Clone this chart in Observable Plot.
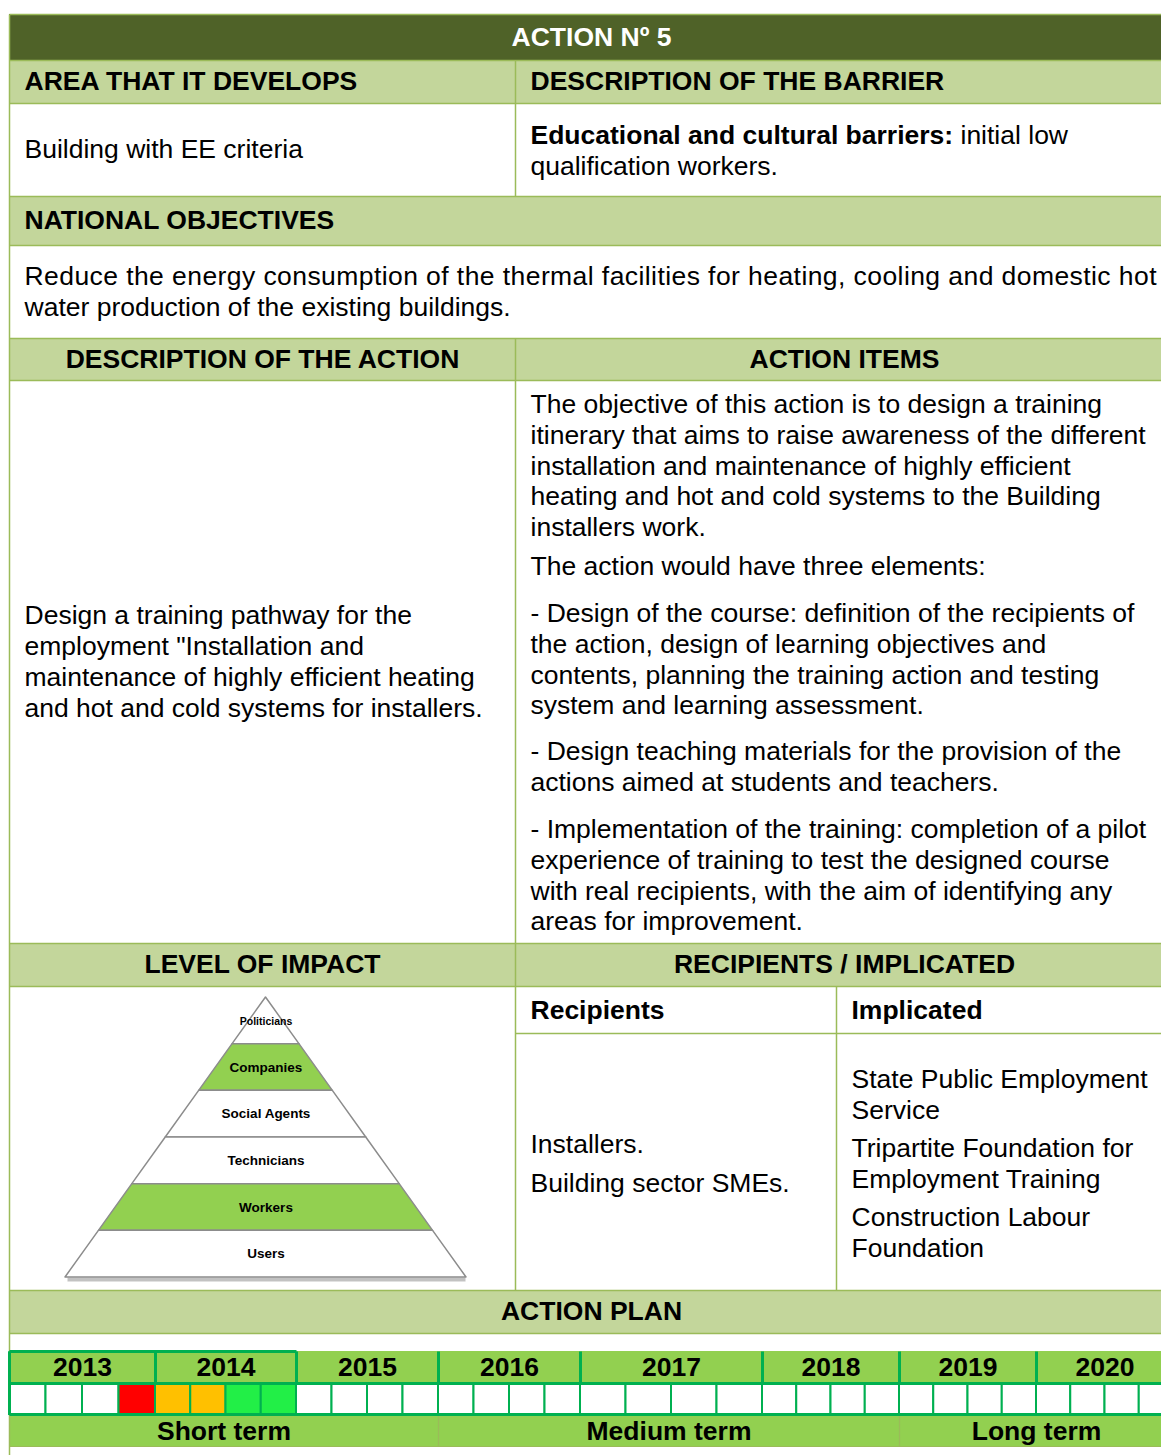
<!DOCTYPE html>
<html><head><meta charset="utf-8">
<script src="https://cdn.jsdelivr.net/npm/d3@7"></script>
<script src="https://cdn.jsdelivr.net/npm/@observablehq/plot@0.6"></script>
<style>html,body{margin:0;padding:0;background:#fff;} svg{display:block}</style>
</head><body><div id="chart"></div>
<script>
// ---------------- DATA ----------------
const actionTitle = "ACTION Nº 5";
const areaHeader = "AREA THAT IT DEVELOPS";
const barrierHeader = "DESCRIPTION OF THE BARRIER";
const areaText = "Building with EE criteria";
const barrierBold = "Educational and cultural barriers:";
const barrierRest = ["initial low", "qualification workers."];
const objectivesHeader = "NATIONAL OBJECTIVES";
const objectivesLines = [
  "Reduce the energy consumption of the thermal facilities for heating, cooling and domestic hot",
  "water production of the existing buildings."
];
const actionDescHeader = "DESCRIPTION OF THE ACTION";
const actionItemsHeader = "ACTION ITEMS";
const actionDescLines = [
  "Design a training pathway for the",
  "employment \"Installation and",
  "maintenance of highly efficient heating",
  "and hot and cold systems for installers."
];
const actionItemsParas = [
  ["The objective of this action is to design a training",
   "itinerary that aims to raise awareness of the different",
   "installation and maintenance of highly efficient",
   "heating and hot and cold systems to the Building",
   "installers work."],
  ["The action would have three elements:"],
  ["- Design of the course: definition of the recipients of",
   "the action, design of learning objectives and",
   "contents, planning the training action and testing",
   "system and learning assessment."],
  ["- Design teaching materials for the provision of the",
   "actions aimed at students and teachers."],
  ["- Implementation of the training: completion of a pilot",
   "experience of training to test the designed course",
   "with real recipients, with the aim of identifying any",
   "areas for improvement."]
];
const impactHeader = "LEVEL OF IMPACT";
const recipientsHeader = "RECIPIENTS / IMPLICATED";
const pyramidLevels = ["Politicians", "Companies", "Social Agents", "Technicians", "Workers", "Users"];
const pyramidHighlighted = ["Companies", "Workers"];
const recipientsLabel = "Recipients";
const implicatedLabel = "Implicated";
const recipients = ["Installers.", "Building sector SMEs."];
const implicated = [
  ["State Public Employment", "Service"],
  ["Tripartite Foundation for", "Employment Training"],
  ["Construction Labour", "Foundation"]
];
const planHeader = "ACTION PLAN";
const years = [2013, 2014, 2015, 2016, 2017, 2018, 2019, 2020];
const quarterStatus = [
  {year: 2013, quarter: 4, status: "red"},
  {year: 2014, quarter: 1, status: "orange"},
  {year: 2014, quarter: 2, status: "orange"},
  {year: 2014, quarter: 3, status: "green"},
  {year: 2014, quarter: 4, status: "green"}
];
const terms = [
  {term: "Short term", from: 2013, to: 2015},
  {term: "Medium term", from: 2016, to: 2018},
  {term: "Long term", from: 2019, to: 2020}
];

// ---------------- LAYOUT / STYLE ----------------
const W = 1161, H = 1455;
const FONT = "'Liberation Sans', Arial, Helvetica, sans-serif";
const FS = 26.5, LH = 30.8;
const COL = {title: "#4f6228", header: "#c3d69b", border: "#9bbb59", plan: "#92d050",
  planBorder: "#00b050", pyrStroke: "#8c8c8c", pyrFill: "#92d050",
  status: {red: "#ff0000", orange: "#ffc000", green: "#22ef47"}};
const X = {left: 9, right: 1173, mid: 515, sub: 836, padL: 24, padR: 530, padS: 851};
const R = {title: [14, 60], h1: [60, 103], b1: [103, 196], h2: [196, 245], b2: [245, 338],
  h3: [338, 380], b3: [380, 943], h4: [943, 986], b4: [986, 1290], sep: 1033, h5: [1290, 1333],
  yr: [1351, 1383], qt: [1383, 1414], tm: [1414, 1446]};
const yearEdges = [9, 155, 296, 438, 580, 762, 899, 1036, 1173];
const itemsParaStarts = [404, 566, 613, 751, 829];
const pyr = {cx: 265.5, top: 997, base: 1277, half: 200.5};

const mid = r => (r[0] + r[1]) / 2;

// ---------------- BUILD ----------------
const fills = [];
const addFill = (x1, x2, r, fill) => fills.push({x1, x2, y1: r[0], y2: r[1], fill});
addFill(X.left, W, R.title, COL.title);
for (const k of ["h1", "h2", "h3", "h4", "h5"]) addFill(X.left, W, R[k], COL.header);
addFill(X.left, W, R.yr, COL.plan);
addFill(X.left, W, R.tm, COL.plan);

const lines = [];
const hl = (y, x1 = X.left, x2 = W) => lines.push({x1, x2, y1: y, y2: y});
const vl = (x, y1, y2) => lines.push({x1: x, x2: x, y1, y2});
[14, 60, 103, 196, 245, 338, 380, 943, 986, 1290, 1333].forEach(y => hl(y));
hl(R.sep, X.mid);
vl(X.left, 14, H);
vl(X.mid, 60, 196); vl(X.mid, 338, 1290); vl(X.sub, 986, 1290);

// timeline cells
const statusOf = (y, q) => {
  const s = quarterStatus.find(d => d.year === y && d.quarter === q);
  return s ? COL.status[s.status] : "#ffffff";
};
const cells = [];
years.forEach((y, i) => {
  const a = yearEdges[i], b = yearEdges[i + 1], w = (b - a) / 4;
  for (let q = 1; q <= 4; q++) cells.push({x1: a + (q - 1) * w, x2: a + q * w, y1: R.qt[0], y2: R.qt[1], fill: statusOf(y, q)});
});
const yearDividers = yearEdges.map(x => ({x1: x, x2: x, y1: R.yr[0], y2: R.yr[1]}));
const planLines = [
  {x1: X.left, x2: W, y1: R.qt[0], y2: R.qt[0]},
  {x1: X.left, x2: W, y1: R.qt[1], y2: R.qt[1]},
  {x1: X.left, x2: yearEdges[2], y1: R.yr[0], y2: R.yr[0]},
  {x1: X.left, x2: X.left, y1: R.yr[0], y2: R.qt[1]}
];
const termLines = [];
terms.forEach((t, i) => { if (i > 0) { const x = yearEdges[years.indexOf(t.from)]; termLines.push({x1: x, x2: x, y1: R.tm[0], y2: R.tm[1]}); } });
termLines.push({x1: X.left, x2: W, y1: R.tm[1], y2: R.tm[1]});

// pyramid
const bandH = (pyr.base - pyr.top) / pyramidLevels.length;
const hw = y => pyr.half * (y - pyr.top) / (pyr.base - pyr.top);
const pyrPts = [];
const pyrLabels = [];
pyramidLevels.forEach((lv, i) => {
  const t = pyr.top + i * bandH, b = t + bandH;
  const fill = pyramidHighlighted.includes(lv) ? COL.pyrFill : "#ffffff";
  for (const y of [t, b]) pyrPts.push({band: lv, y, x1: pyr.cx - hw(y), x2: pyr.cx + hw(y), fill});
  pyrLabels.push({x: pyr.cx, y: (t + b) / 2 + (i === 0 ? 1 : 0), text: lv, size: i === 0 ? 10.5 : 13.5});
});

// texts
const ctx = document.createElement("canvas").getContext("2d");
ctx.font = `bold ${FS}px ${FONT}`;
const boldW = ctx.measureText(barrierBold).width;
ctx.font = `${FS}px ${FONT}`;
const spaceW = ctx.measureText(" ").width;

const boldStart = [
  {x: X.padL, y: mid(R.h1), text: areaHeader},
  {x: X.padR, y: mid(R.h1), text: barrierHeader},
  {x: X.padR, y: 135, text: barrierBold},
  {x: X.padL, y: mid(R.h2), text: objectivesHeader},
  {x: X.padR, y: mid([986, R.sep]) + 1, text: recipientsLabel},
  {x: X.padS, y: mid([986, R.sep]) + 1, text: implicatedLabel}
];
const boldMid = [
  {x: (X.left + X.mid) / 2, y: mid(R.h3), text: actionDescHeader},
  {x: (X.mid + X.right) / 2, y: mid(R.h3), text: actionItemsHeader},
  {x: (X.left + X.mid) / 2, y: mid(R.h4), text: impactHeader},
  {x: (X.mid + X.right) / 2, y: mid(R.h4), text: recipientsHeader},
  {x: (X.left + X.right) / 2, y: mid(R.h5), text: planHeader}
];
years.forEach((y, i) => boldMid.push({x: (yearEdges[i] + yearEdges[i + 1]) / 2, y: mid(R.yr), text: String(y)}));
terms.forEach(t => boldMid.push({x: (yearEdges[years.indexOf(t.from)] + yearEdges[years.indexOf(t.to) + 1]) / 2, y: mid(R.tm) + 1, text: t.term}));

const normalStart = [
  {x: X.padL, y: mid(R.b1), text: areaText},
  {x: X.padR + boldW + spaceW, y: 135, text: barrierRest[0]},
  {x: X.padR, y: 135 + LH, text: barrierRest[1]}
];
objectivesLines.forEach((t, i) => normalStart.push({x: X.padL, y: 276 + i * LH, text: t}));
const descTop = mid(R.b3) - (actionDescLines.length - 1) * LH / 2;
actionDescLines.forEach((t, i) => normalStart.push({x: X.padL, y: descTop + i * LH, text: t}));
actionItemsParas.forEach((p, j) => p.forEach((t, i) => normalStart.push({x: X.padR, y: itemsParaStarts[j] + i * LH, text: t})));
const recMid = mid([R.sep, R.b4[1]]) + 2;
const recGap = 8, implGap = 7.5;
recipients.forEach((t, i) => normalStart.push({x: X.padR, y: recMid - (LH + recGap) / 2 + i * (LH + recGap), text: t}));
const implLines = [];
let yy = 0;
implicated.forEach((p, j) => { p.forEach((t, i) => { implLines.push({t, y: yy}); yy += LH; }); yy += implGap; });
const implSpan = implLines[implLines.length - 1].y;
implLines.forEach(d => normalStart.push({x: X.padS, y: recMid - implSpan / 2 + d.y, text: d.t}));

const txt = (data, o) => Plot.text(data, {x: "x", y: "y", text: "text", fontSize: FS, fill: "#000", lineAnchor: "middle", ...o});

const chart = Plot.plot({
  width: W, height: H, margin: 0,
  x: {domain: [0, W], range: [0, W], axis: null},
  y: {domain: [0, H], range: [0, H], axis: null},
  color: {type: "identity"},
  style: {fontFamily: FONT, background: "#fff", overflow: "hidden"},
  marks: [
    Plot.rect(fills, {x1: "x1", x2: "x2", y1: "y1", y2: "y2", fill: "fill"}),
    Plot.link(lines, {x1: "x1", x2: "x2", y1: "y1", y2: "y2", stroke: COL.border, strokeWidth: 1.5}),
    // pyramid shadow + bands
    Plot.link([{x1: pyr.cx - pyr.half + 2, x2: pyr.cx + pyr.half - 1, y1: pyr.base + 2, y2: pyr.base + 2}], {x1: "x1", x2: "x2", y1: "y1", y2: "y2", stroke: "#777", strokeWidth: 4, strokeOpacity: 0.45}),
    Plot.areaX(pyrPts, {x1: "x1", x2: "x2", y: "y", z: "band", fill: "fill", stroke: COL.pyrStroke, strokeWidth: 1.5}),
    Plot.text(pyrLabels, {x: "x", y: "y", text: "text", fontSize: "size", fontWeight: "bold", fill: "#000"}),
    // timeline
    Plot.rect(cells, {x1: "x1", x2: "x2", y1: "y1", y2: "y2", fill: "fill", stroke: COL.planBorder, strokeWidth: 2}),
    Plot.link(termLines, {x1: "x1", x2: "x2", y1: "y1", y2: "y2", stroke: COL.border, strokeWidth: 1.2}),
    Plot.link(planLines, {x1: "x1", x2: "x2", y1: "y1", y2: "y2", stroke: COL.planBorder, strokeWidth: 3}),
    Plot.link(yearDividers, {x1: "x1", x2: "x2", y1: "y1", y2: "y2", stroke: COL.planBorder, strokeWidth: 3}),
    // texts
    txt([{x: (X.left + X.right) / 2, y: mid(R.title), text: actionTitle}], {textAnchor: "middle", fontWeight: "bold", fill: "#fff"}),
    txt(boldStart, {textAnchor: "start", fontWeight: "bold"}),
    txt(boldMid, {textAnchor: "middle", fontWeight: "bold"}),
    txt(normalStart, {textAnchor: "start"})
  ]
});
document.getElementById("chart").appendChild(chart);
// justify first line of national objectives (like the reference)
d3.select(chart).selectAll("text").filter(function () { return this.textContent === objectivesLines[0]; })
  .attr("textLength", 1156 - X.padL).attr("lengthAdjust", "spacing");
</script></body></html>
